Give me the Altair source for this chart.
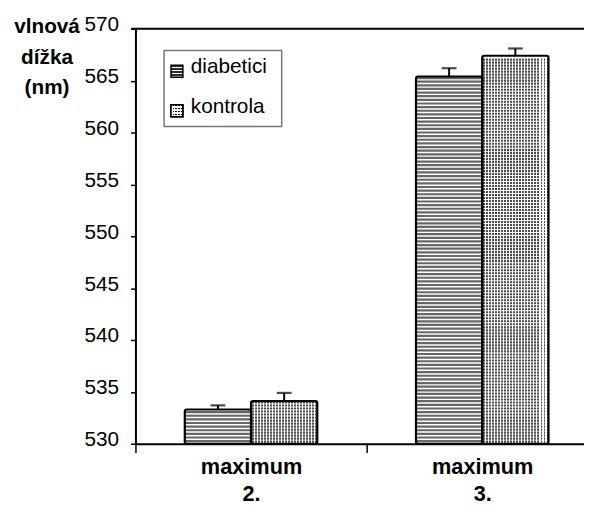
import altair as alt
import pandas as pd

# ---- data ----
groups = ["maximum 2.", "maximum 3."]
series = ["diabetici", "kontrola"]
diabetici = [533.3, 565.4]
kontrola = [534.1, 567.4]
diabetici_err = [533.7, 566.2]
kontrola_err = [534.9, 568.1]
y_ticks = [530, 535, 540, 545, 550, 555, 560, 565, 570]
y_title = ["vlnová", "dížka", "(nm)"]

rows = []
for i, g in enumerate(groups):
    rows.append({"group": g, "series": series[0], "value": diabetici[i], "err": diabetici_err[i]})
    rows.append({"group": g, "series": series[1], "value": kontrola[i], "err": kontrola_err[i]})
df = pd.DataFrame(rows)
legend_df = pd.DataFrame({"series": series})

W, H = 454, 420
FONT = "Liberation Sans"
BAR_W = 67
YMIN, YMAX = 530, 570


def stripes(n, direction, on, off, frac=0.5):
    stops = []
    for i in range(n):
        a, b, c = i / n, (i + frac) / n, (i + 1) / n
        stops += [{"offset": a, "color": on}, {"offset": b, "color": on},
                  {"offset": b, "color": off}, {"offset": c, "color": off}]
    g = {"gradient": "linear", "x1": 0, "y1": 0, "x2": 0, "y2": 0, "stops": stops}
    if direction == "x":
        g["x2"] = 1
    else:
        g["y2"] = 1
    return g


white_cols = stripes(22, "x", "white", "rgba(255,255,255,0)", 0.35)

X = alt.X("group:N", sort=groups,
          scale=alt.Scale(range=[0, 468], paddingInner=0, paddingOuter=0),
          axis=alt.Axis(title=None, labelExpr="split(datum.label, ' ')",
                        labelFont=FONT, labelFontSize=22, labelFontWeight="bold",
                        labelColor="black", labelAngle=0, labelBaseline="alphabetic",
                        labelLineHeight=27, labelPadding=21, tickBand="extent",
                        tickSize=9, tickWidth=1.5, tickColor="black",
                        domainColor="black", domainWidth=2, grid=False))
XO = alt.XOffset("series:N", sort=series,
                 scale=alt.Scale(paddingInner=0, paddingOuter=0.745))


def Y(field):
    return alt.Y(f"{field}:Q",
                 scale=alt.Scale(domain=[YMIN, YMAX], nice=False, zero=False),
                 axis=alt.Axis(values=y_ticks, title=y_title, titleAngle=0,
                               titleAlign="center", titleBaseline="alphabetic",
                               titleX=-90, titleY=4, titleFont=FONT, titleFontSize=21,
                               titleFontWeight="bold", titleLineHeight=31,
                               titleColor="black", labelFont=FONT, labelFontSize=21,
                               labelColor="black", labelPadding=12, labelOffset=-4,
                               tickSize=5, tickWidth=1.5, tickColor="black",
                               domainColor="black", domainWidth=2, grid=False))


base = alt.Chart(df)
is_d = f"datum.series == '{series[0]}'"
is_k = f"datum.series == '{series[1]}'"

bars_bg = base.mark_bar(fill="white", strokeWidth=0).encode(
    x=X, xOffset=XO, y=Y("value"), y2=alt.datum(YMIN))

stripes_d = base.transform_filter(is_d).transform_calculate(
    ys=f"sequence({YMIN} + 0.25, datum.value - 0.1, 0.35)"
).transform_flatten(["ys"]).mark_tick(
    color="#262626", thickness=2.2, size=BAR_W).encode(x=X, xOffset=XO, y=Y("ys"))

lines_k = base.transform_filter(is_k).transform_calculate(
    ys=f"sequence({YMIN} + 0.2, datum.value - 0.1, 0.29)"
).transform_flatten(["ys"]).mark_tick(
    color="black", thickness=2.1, size=BAR_W).encode(x=X, xOffset=XO, y=Y("ys"))

cols_k = base.transform_filter(is_k).mark_bar(fill=white_cols, strokeWidth=0).encode(
    x=X, xOffset=XO, y=Y("value"), y2=alt.datum(YMIN))

outline = base.mark_bar(fill="white", fillOpacity=0, stroke="black", strokeWidth=2.2,
                        cornerRadius=2).encode(
    x=X, xOffset=XO, y=Y("value"), y2=alt.datum(YMIN))

err_rule = base.mark_rule(color="black", strokeWidth=2).encode(
    x=X, xOffset=XO, y=Y("value"), y2="err:Q")
err_cap = base.mark_tick(color="black", thickness=2.2, size=15).encode(
    x=X, xOffset=XO, y=Y("err"))

one = alt.Chart(legend_df.head(1))
top_rule = one.mark_rule(color="black", strokeWidth=2).encode(
    x=alt.value(-4), x2=alt.value(W), y=alt.value(0))

box = one.mark_rect(fill="white", stroke="#777777", strokeWidth=1.5).encode(
    x=alt.value(29), x2=alt.value(148), y=alt.value(22), y2=alt.value(99))

leg_pos = [43, 83]
sym_d = one.mark_square(size=144, opacity=1,
                        fill=stripes(4, "y", "#2e2e2e", "white"),
                        stroke="black", strokeWidth=1.5).encode(
    x=alt.value(42), y=alt.value(leg_pos[0]))
sym_k1 = one.mark_square(size=144, opacity=1,
                         fill=stripes(4, "y", "black", "white"),
                         stroke="black", strokeWidth=1.5).encode(
    x=alt.value(42), y=alt.value(leg_pos[1]))
sym_k2 = one.mark_square(size=144, opacity=1,
                         fill=stripes(4, "x", "white", "rgba(255,255,255,0)"),
                         stroke="black", strokeWidth=1.5).encode(
    x=alt.value(42), y=alt.value(leg_pos[1]))

texts = []
for name, py in zip(series, leg_pos):
    texts.append(one.mark_text(text=name, align="left", baseline="middle", font=FONT,
                               fontSize=21, color="black").encode(
        x=alt.value(56), y=alt.value(py - 4)))

chart = alt.layer(
    bars_bg, stripes_d, lines_k, cols_k, outline, err_rule, err_cap,
    top_rule, box, sym_d, sym_k1, sym_k2, *texts
).properties(
    width=W, height=H,
    autosize=alt.AutoSizeParams(type="none"),
    padding={"left": 129, "top": 18, "right": 0, "bottom": 61},
).configure_view(stroke=None)

chart.save("out.html", embed_options={"renderer": "svg", "actions": False})
